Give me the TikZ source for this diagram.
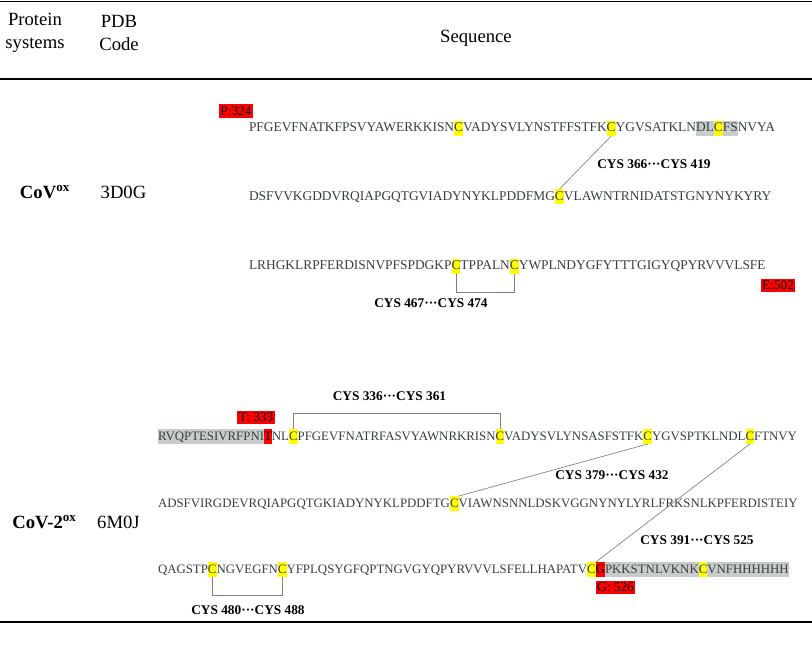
\documentclass[tikz,border=0pt]{standalone}
\usepackage{fontspec}
\setmainfont{Liberation Serif}
\usepackage{tikz}
\usetikzlibrary{positioning}
\definecolor{cysyellow}{RGB}{255,255,0}
\definecolor{termred}{RGB}{255,0,0}
\definecolor{taggray}{RGB}{200,205,204}
\definecolor{seqtext}{RGB}{55,62,62}
\tikzset{
  seq/.style={inner xsep=0pt, inner ysep=0pt, outer sep=0pt, text height=8.2pt, text depth=3pt, text=seqtext, font=\fontsize{10.05}{12}\selectfont},
  cys/.style={seq, fill=cysyellow},
  tag/.style={seq, fill=taggray},
  cut/.style={seq, fill=termred, text=black},
  termbox/.style={fill=termred, inner xsep=1pt, inner ysep=1.5pt, font=\fontsize{10}{12}\selectfont},
  bond/.style={draw=gray, line width=0.5pt},
  bondlabel/.style={font=\bfseries\fontsize{10}{12}\selectfont},
  head/.style={align=center, font=\fontsize{14}{17}\selectfont},
  rule/.style={line width=0.9pt}
}

\begin{document}
\begin{tikzpicture}[x=0.75pt,y=-0.75pt]
  \useasboundingbox (0,0) rectangle (812,649);
  % table rules
  \draw[rule] (0,1.2) -- (812,1.2);
  \draw[rule] (0,79) -- (812,79);
  \draw[rule] (0,622) -- (812,622);
  % header
  \node[head] (hprot) at (35,33) {Protein\\systems};
  \node[head] (hpdb) at (119,33) {PDB\\Code};
  \node[head] (hseq) at (476,38) {Sequence};
  % CoV, 3D0G
  \node[head, anchor=base] (cov) at (45,198) {\textbf{CoV\textsuperscript{ox}}};
  \node[head, anchor=base] (pdbcov) at (123.5,198) {3D0G};
  \node[seq, anchor=base west] (s11) at (249,132) {PFGEVFNATKFPSVYAWERKKISN};
  \node[cys, right=0pt of s11] (c11) {C};
  \node[seq, right=0pt of c11] (s12) {VADYSVLYNSTFFSTFK};
  \node[cys, right=0pt of s12] (c12) {C};
  \node[seq, right=0pt of c12] (s13) {YGVSATKLN};
  \node[tag, right=0pt of s13] (t11) {DL};
  \node[cys, right=0pt of t11] (c13) {C};
  \node[tag, right=0pt of c13] (t12) {FS};
  \node[seq, right=0pt of t12] (s14) {NVYA};
  \node[seq, anchor=base west] (s21) at (249,200) {DSFVVKGDDVRQIAPGQTGVIADYNYKLPDDFMG};
  \node[cys, right=0pt of s21] (c21) {C};
  \node[seq, right=0pt of c21] (s22) {VLAWNTRNIDATSTGNYNYKYRY};
  \node[seq, anchor=base west] (s31) at (249,269.5) {LRHGKLRPFERDISNVPFSPDGKP};
  \node[cys, right=0pt of s31] (c31) {C};
  \node[seq, right=0pt of c31] (s32) {TPPALN};
  \node[cys, right=0pt of s32] (c32) {C};
  \node[seq, right=0pt of c32] (s33) {YWPLNDYGFYTTTGIGYQPYRVVVLSFE};
  \node[termbox] (pstart) at (236,111) {P:324};
  \node[termbox] (eend) at (778,285.5) {E:502};
  \draw[bond] (c12.south) -- (c21.north);
  \node[bondlabel] (b366) at (654,164) {CYS 366···CYS 419};
  \draw[bond] (c31.south) -- ++(0,19) -| (c32.south);
  \node[bondlabel] (b467) at (431,303) {CYS 467···CYS 474};
  % CoV-2, 6M0J
  \node[head, anchor=base] (cov2) at (44.5,528) {\textbf{CoV-2\textsuperscript{ox}}};
  \node[head, anchor=base] (pdbcov2) at (118.5,528) {6M0J};
  \begin{scope}[seq/.append style={font=\fontsize{9.64}{12}\selectfont}]
  \node[tag, anchor=base west] (t41) at (158,440) {RVQPTESIVRFPNI};
  \node[cut, right=0pt of t41] (r41) {T};
  \node[seq, right=0pt of r41] (s41) {NL};
  \node[cys, right=0pt of s41] (c41) {C};
  \node[seq, right=0pt of c41] (s42) {PFGEVFNATRFASVYAWNRKRISN};
  \node[cys, right=0pt of s42] (c42) {C};
  \node[seq, right=0pt of c42] (s43) {VADYSVLYNSASFSTFK};
  \node[cys, right=0pt of s43] (c43) {C};
  \node[seq, right=0pt of c43] (s44) {YGVSPTKLNDL};
  \node[cys, right=0pt of s44] (c44) {C};
  \node[seq, right=0pt of c44] (s45) {FTNVY};
  \node[seq, anchor=base west] (s51) at (158,507) {ADSFVIRGDEVRQIAPGQTGKIADYNYKLPDDFTG};
  \node[cys, right=0pt of s51] (c51) {C};
  \node[seq, right=0pt of c51] (s52) {VIAWNSNNLDSKVGGNYNYLYRLFRKSNLKPFERDISTEIY};
  \node[seq, anchor=base west] (s61) at (158,573) {QAGSTP};
  \node[cys, right=0pt of s61] (c61) {C};
  \node[seq, right=0pt of c61] (s62) {NGVEGFN};
  \node[cys, right=0pt of s62] (c62) {C};
  \node[seq, right=0pt of c62] (s63) {YFPLQSYGFQPTNGVGYQPYRVVVLSFELLHAPATV};
  \node[cys, right=0pt of s63] (c63) {C};
  \node[cut, right=0pt of c63] (r61) {G};
  \node[tag, right=0pt of r61] (t61) {PKKSTNLVKNK};
  \node[cys, right=0pt of t61] (c64) {C};
  \node[tag, right=0pt of c64] (t62) {VNFHHHHHH};
  \end{scope}
  \node[termbox] (tstart) at (256,417.5) {T: 333};
  \node[termbox] (gend) at (615.5,587) {G: 526};
  \draw[bond] (c41.north) -- ++(0,-16) -| (c42.north);
  \node[bondlabel] (b336) at (389.5,396) {CYS 336···CYS 361};
  \draw[bond] (c43.south) -- (c51.north east);
  \node[bondlabel] (b379) at (612,475) {CYS 379···CYS 432};
  \draw[bond] (c44.south) -- (c63.north east);
  \node[bondlabel] (b391) at (697,540) {CYS 391···CYS 525};
  \draw[bond] (c61.south) -- ++(0,18) -| (c62.south);
  \node[bondlabel] (b480) at (248,610) {CYS 480···CYS 488};
\end{tikzpicture}
\end{document}
